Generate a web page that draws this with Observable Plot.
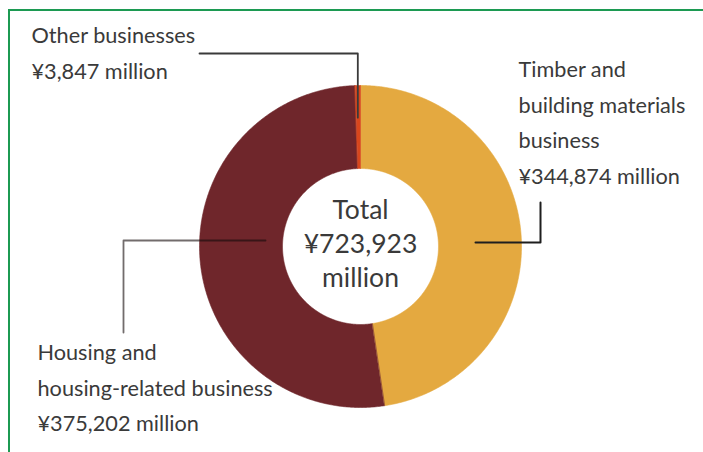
<!DOCTYPE html>
<html>
<head>
<meta charset="utf-8">
<script src="https://cdn.jsdelivr.net/npm/d3@7"></script>
<script src="https://cdn.jsdelivr.net/npm/@observablehq/plot@0.6"></script>
<style>
  html, body { margin: 0; padding: 0; background: #fff; }
  #wrap { position: relative; width: 703px; height: 452px; overflow: hidden; }
  #border { position: absolute; left: 8px; top: 9px; width: 800px; height: 600px;
            border-top: 2px solid #1c9a52; border-left: 2px solid #1c9a52; pointer-events: none; }
</style>
</head>
<body>
<div id="wrap"><div id="border"></div></div>
<script>
// ---- data ----
const segments = ["Timber and building materials business", "Housing and housing-related business", "Other businesses"];
const values = [344874, 375202, 3847];
const labelLines = [["Timber and", "building materials", "business"], ["Housing and", "housing-related business"], ["Other businesses"]];
const colors = ["#e4a940", "#6f262b", "#d8461c"];
const totalLabel = ["Total", "¥723,923", "million"];

// ---- layout ----
const W = 703, H = 452;
const cx = 360, cy = 246;
const R = 161, r0 = 78;
const fmt = d3.format(",");

const pie = d3.pie().sort(null).startAngle(0).endAngle(2 * Math.PI);
const arcs = pie(values);

// polygons for each slice
const ring = [];
arcs.forEach((a, i) => {
  const n = Math.max(4, Math.ceil((a.endAngle - a.startAngle) / (Math.PI / 360)));
  const pts = [];
  for (let k = 0; k <= n; k++) {
    const t = a.startAngle + (a.endAngle - a.startAngle) * k / n;
    pts.push({t, rr: R});
  }
  for (let k = n; k >= 0; k--) {
    const t = a.startAngle + (a.endAngle - a.startAngle) * k / n;
    pts.push({t, rr: r0});
  }
  pts.forEach(p => ring.push({seg: segments[i], x: p.rr * Math.sin(p.t), y: -p.rr * Math.cos(p.t)}));
});

// leader lines (relative to centre), anchored to slice geometry
const aO = arcs[2];
const otherX = R * Math.sin((aO.startAngle + aO.endAngle) / 2);
const leaders = [
  // other
  {g: "o", x: otherX, y: -R * 0.80}, {g: "o", x: otherX, y: -193}, {g: "o", x: -161, y: -193},
  // timber
  {g: "t", x: 115, y: -4}, {g: "t", x: 180, y: -4}, {g: "t", x: 180, y: -44},
  // housing
  {g: "h", x: -95, y: -6}, {g: "h", x: -237, y: -6}, {g: "h", x: -237, y: 86}
];

const labels = [
  {x: 158, y: -169, text: [...labelLines[0], "¥" + fmt(values[0]) + " million"].join("\n")},
  {x: -323, y: 114, text: [...labelLines[1], "¥" + fmt(values[1]) + " million"].join("\n")},
  {x: -329, y: -203, text: [...labelLines[2], "¥" + fmt(values[2]) + " million"].join("\n")}
];
const fs = 21.7, lh = 35.5;
const cfs = 26.5, clh = 34.5;

const chart = Plot.plot({
  width: W, height: H,
  margin: 0,
  x: {domain: [-cx, W - cx], range: [0, W], axis: null},
  y: {domain: [-cy, H - cy], range: [0, H], axis: null},
  color: {domain: segments, range: colors},
  style: {fontFamily: "Lato, 'Noto Sans', sans-serif", background: "transparent", overflow: "visible"},
  marks: [
    Plot.line(ring, {x: "x", y: "y", z: "seg", fill: "seg", stroke: "seg", strokeWidth: 0.6, curve: "linear-closed"}),
    Plot.line(leaders.filter(d => d.g === "o"), {x: "x", y: "y", stroke: "#3a3a3a", strokeWidth: 1.8}),
    Plot.line(leaders.filter(d => d.g === "t"), {x: "x", y: "y", stroke: "#1e1e1e", strokeWidth: 2}),
    Plot.line(leaders.filter(d => d.g === "h"), {x: "x", y: "y", stroke: "rgba(20,10,10,0.6)", strokeWidth: 1.8}),
    Plot.text(labels, {x: "x", y: d => d.y - 0.71 * lh, text: "text", textAnchor: "start", lineAnchor: "top",
      lineHeight: lh / fs, fontSize: fs, fill: "#3a3a3a"}),
    Plot.text([totalLabel.join("\n")], {x: () => 0, y: () => -28 - 0.71 * clh, text: d => d, textAnchor: "middle",
      lineAnchor: "top", lineHeight: clh / cfs, fontSize: cfs, fill: "#3a3a3a"})
  ]
});
document.getElementById("wrap").insertBefore(chart, document.getElementById("border"));
</script>
</body>
</html>
